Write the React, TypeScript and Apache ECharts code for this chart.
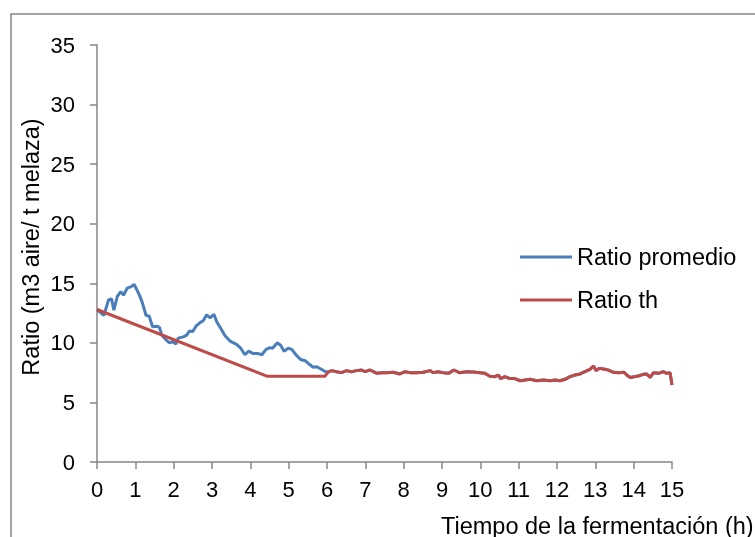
import React, { useEffect, useRef } from "react";
import * as echarts from "echarts";

const xTicks = [0, 15];
const yRange = [0, 35];

const blueX = [0, 0.18, 0.3, 0.38, 0.44, 0.53, 0.62, 0.69, 0.79, 0.88, 0.97, 1.08, 1.17, 1.28, 1.36, 1.45, 1.56, 1.63, 1.69, 1.8, 1.89, 1.97, 2.06, 2.12, 2.25, 2.34, 2.41, 2.5, 2.58, 2.69, 2.77, 2.86, 2.95, 3.05, 3.12, 3.23, 3.34, 3.47, 3.63, 3.75, 3.86, 3.95, 4.08, 4.21, 4.3, 4.41, 4.51, 4.58, 4.7, 4.79, 4.88, 4.99, 5.08, 5.19, 5.31, 5.43, 5.54, 5.64, 5.73, 5.84, 5.95];
const blueY = [12.8, 12.3, 13.6, 13.7, 12.75, 13.9, 14.3, 14.0, 14.6, 14.7, 14.9, 14.2, 13.5, 12.3, 12.25, 11.35, 11.4, 11.3, 10.65, 10.25, 10.0, 10.1, 9.9, 10.4, 10.5, 10.65, 11.0, 10.95, 11.4, 11.7, 11.85, 12.35, 12.1, 12.4, 11.8, 11.2, 10.6, 10.15, 9.9, 9.55, 9.0, 9.3, 9.1, 9.1, 9.0, 9.45, 9.6, 9.55, 10.0, 9.8, 9.3, 9.55, 9.45, 9.0, 8.6, 8.5, 8.2, 7.95, 8.0, 7.8, 7.6];

const redX = [0, 4.43, 5.95];
const redY = [12.8, 7.2, 7.2];

const tailX = [6.03, 6.12, 6.25, 6.38, 6.51, 6.64, 6.77, 6.9, 6.99, 7.12, 7.21, 7.3, 7.43, 7.56, 7.73, 7.9, 8.04, 8.17, 8.34, 8.51, 8.69, 8.77, 8.9, 9.03, 9.17, 9.31, 9.45, 9.64, 9.82, 9.99, 10.12, 10.25, 10.38, 10.47, 10.53, 10.64, 10.77, 10.9, 11.04, 11.17, 11.3, 11.47, 11.64, 11.82, 11.95, 12.08, 12.21, 12.34, 12.47, 12.6, 12.73, 12.86, 12.95, 13.02, 13.11, 13.21, 13.34, 13.47, 13.6, 13.75, 13.82, 13.91, 14.01, 14.12, 14.25, 14.34, 14.43, 14.52, 14.65, 14.77, 14.86, 14.95, 15.0];
const tailY = [7.55, 7.67, 7.58, 7.5, 7.67, 7.58, 7.67, 7.72, 7.58, 7.72, 7.58, 7.44, 7.5, 7.5, 7.53, 7.39, 7.58, 7.5, 7.5, 7.53, 7.67, 7.5, 7.58, 7.5, 7.44, 7.72, 7.5, 7.58, 7.55, 7.5, 7.44, 7.2, 7.16, 7.3, 7.0, 7.16, 7.0, 7.0, 6.82, 6.88, 6.94, 6.82, 6.88, 6.82, 6.88, 6.82, 6.94, 7.16, 7.3, 7.39, 7.58, 7.78, 8.06, 7.67, 7.86, 7.8, 7.72, 7.53, 7.5, 7.53, 7.3, 7.1, 7.16, 7.22, 7.36, 7.39, 7.1, 7.5, 7.44, 7.58, 7.44, 7.5, 6.46];

const seriesNames = ["Ratio promedio", "Ratio th"];
const yTitle = "Ratio (m3 aire/ t melaza)";
const xTitle = "Tiempo de la fermentación (h)";

const pairs = (xs: number[], ys: number[]) => xs.map((x, i) => [x, ys[i]]);

export default function App() {
  const ref = useRef<HTMLDivElement>(null);
  useEffect(() => {
    if (!ref.current) return;
    const chart = echarts.init(ref.current, null, { renderer: "svg" });
    const font = "Liberation Sans, Arial, sans-serif";
    const axisColor = "#868686";
    const tickFs = 22;
    const titleFs = 23.5;
    chart.setOption({
      animation: false,
      textStyle: { fontFamily: font },
      grid: { left: 97, right: 83, top: 45, bottom: 75 },
      xAxis: {
        type: "value",
        min: xTicks[0],
        max: xTicks[1],
        interval: 1,
        splitLine: { show: false },
        axisLine: { lineStyle: { color: axisColor, width: 1.5 } },
        axisTick: { show: true, inside: false, length: 7, lineStyle: { color: axisColor, width: 1.5 } },
        axisLabel: { color: "#000", fontSize: tickFs, margin: 16, fontFamily: font },
      },
      yAxis: {
        type: "value",
        min: yRange[0],
        max: yRange[1],
        interval: 5,
        splitLine: { show: false },
        axisLine: { show: true, lineStyle: { color: axisColor, width: 1.5 } },
        axisTick: { show: true, inside: false, length: 7, lineStyle: { color: axisColor, width: 1.5 } },
        axisLabel: { color: "#000", fontSize: tickFs, margin: 22, fontFamily: font },
      },
      legend: {
        orient: "vertical",
        left: 520,
        top: 245,
        padding: 0,
        icon: "rect",
        itemWidth: 52,
        itemHeight: 3,
        itemGap: 19,
        textStyle: { fontSize: titleFs, color: "#000", fontFamily: font },
        data: seriesNames,
      },
      graphic: [
        {
          type: "rect",
          shape: { x: 11, y: 14, width: 900, height: 700 },
          style: { fill: "none", stroke: axisColor, lineWidth: 1.5 },
          silent: true,
        },
        {
          type: "text",
          x: 31,
          y: 247,
          rotation: Math.PI / 2,
          style: {
            text: yTitle,
            fontSize: titleFs,
            fontFamily: font,
            fill: "#000",
            align: "center",
            verticalAlign: "middle",
          },
        },
        {
          type: "text",
          x: 441,
          y: 526,
          style: {
            text: xTitle,
            fontSize: titleFs,
            fontFamily: font,
            fill: "#000",
            align: "left",
            verticalAlign: "middle",
          },
        },
      ],
      series: [
        {
          name: seriesNames[0],
          type: "line",
          symbol: "none",
          data: pairs(blueX.concat(tailX), blueY.concat(tailY)),
          lineStyle: { color: "#4A7EBB", width: 3 },
          itemStyle: { color: "#4A7EBB" },
        },
        {
          name: seriesNames[1],
          type: "line",
          symbol: "none",
          data: pairs(redX.concat(tailX), redY.concat(tailY)),
          lineStyle: { color: "#BE4B48", width: 3 },
          itemStyle: { color: "#BE4B48" },
        },
      ],
    });
    return () => chart.dispose();
  }, []);
  return (
    <div
      ref={ref}
      style={{ position: "fixed", left: 0, top: 0, width: 755, height: 537 }}
    />
  );
}
